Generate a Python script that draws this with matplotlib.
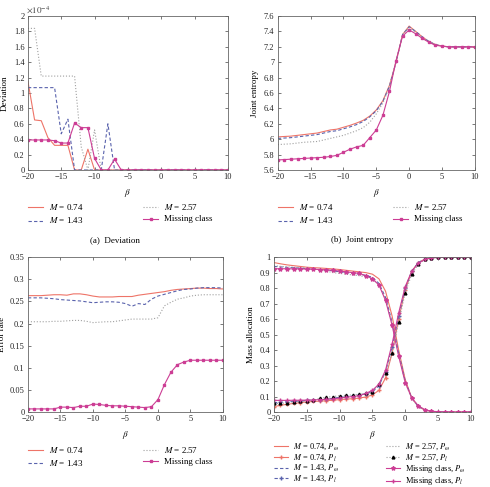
import numpy as np
import matplotlib
matplotlib.use('Agg')
from matplotlib import pyplot as plt

plt.rcParams['font.family'] = ['Liberation Serif', 'DejaVu Serif']
plt.rcParams['mathtext.fontset'] = 'stix'
plt.rcParams['font.size'] = 6.5

beta = list(range(-20, 11))

# (a) deviation, in units of 1e-4
dev_074 = [1.15, 0.65, 0.64, 0.42, 0.32, 0.32, 0.32, 0, 0, 0.27, 0] + [0] * 20
dev_143 = [1.07, 1.07, 1.07, 1.07, 1.07, 0.47, 0.66, 0, 0, 0, 0, 0, 0.6, 0] + [0] * 17
dev_257 = [1.84, 1.84, 1.22, 1.22, 1.22, 1.22, 1.22, 1.22, 0.3, 0, 0.52, 0] + [0] * 19
dev_miss = [0.39, 0.39, 0.39, 0.39, 0.38, 0.35, 0.35, 0.61, 0.55, 0.55, 0.15, 0, 0, 0.14, 0] + [0] * 16

# (b) joint entropy
ent_074 = [6.03, 6.035, 6.04, 6.05, 6.06, 6.07, 6.08, 6.1, 6.12, 6.13, 6.155, 6.18, 6.21, 6.245,
           6.3, 6.38, 6.5, 6.7, 7.0, 7.36, 7.47, 7.4, 7.33, 7.27, 7.23, 7.21, 7.2, 7.2, 7.2, 7.2, 7.2]
ent_143 = [6.01, 6.015, 6.02, 6.03, 6.04, 6.05, 6.06, 6.08, 6.1, 6.11, 6.135, 6.16, 6.19, 6.23,
           6.29, 6.37, 6.49, 6.69, 7.0, 7.36, 7.46, 7.4, 7.33, 7.27, 7.23, 7.21, 7.2, 7.2, 7.2, 7.2, 7.2]
ent_257 = [5.93, 5.935, 5.94, 5.95, 5.96, 5.965, 5.97, 5.99, 6.01, 6.03, 6.05, 6.08, 6.11, 6.15,
           6.22, 6.33, 6.47, 6.68, 7.0, 7.36, 7.45, 7.39, 7.32, 7.27, 7.23, 7.21, 7.2, 7.2, 7.2, 7.2, 7.2]
ent_miss = [5.73, 5.735, 5.74, 5.745, 5.75, 5.755, 5.76, 5.765, 5.775, 5.79, 5.83, 5.87, 5.9, 5.92,
            6.02, 6.12, 6.31, 6.62, 7.02, 7.34, 7.42, 7.37, 7.31, 7.26, 7.22, 7.21, 7.2, 7.2, 7.2, 7.2, 7.2]

# (c) error rate
err_074 = [0.263, 0.263, 0.263, 0.264, 0.265, 0.265, 0.264, 0.267, 0.267, 0.265, 0.262, 0.26, 0.26,
           0.26, 0.261, 0.261, 0.261, 0.264, 0.266, 0.268, 0.27, 0.272, 0.275, 0.277, 0.278, 0.279,
           0.28, 0.28, 0.279, 0.279, 0.278]
err_143 = [0.258, 0.258, 0.258, 0.257, 0.256, 0.254, 0.253, 0.252, 0.251, 0.249, 0.247, 0.248, 0.249,
           0.249, 0.248, 0.245, 0.239, 0.245, 0.243, 0.255, 0.262, 0.266, 0.27, 0.274, 0.277, 0.278,
           0.28, 0.281, 0.281, 0.281, 0.28]
err_257 = [0.204, 0.204, 0.204, 0.204, 0.205, 0.205, 0.206, 0.207, 0.207, 0.205, 0.202, 0.203, 0.204,
           0.204, 0.206, 0.208, 0.21, 0.21, 0.21, 0.21, 0.213, 0.24, 0.248, 0.255, 0.258, 0.262,
           0.264, 0.265, 0.265, 0.265, 0.265]
err_miss = [0.007, 0.007, 0.007, 0.007, 0.007, 0.011, 0.011, 0.01, 0.013, 0.013, 0.018, 0.017, 0.015,
            0.014, 0.014, 0.013, 0.012, 0.011, 0.01, 0.012, 0.028, 0.062, 0.09, 0.107, 0.113, 0.117,
            0.117, 0.117, 0.117, 0.117, 0.117]

# (d) mass allocation
pw_074 = [0.965, 0.957, 0.95, 0.945, 0.94, 0.935, 0.932, 0.93, 0.927, 0.924, 0.92, 0.915, 0.91, 0.905,
          0.9, 0.89, 0.86, 0.78, 0.62, 0.4, 0.21, 0.09, 0.035, 0.012, 0.004, 0.001, 0, 0, 0, 0, 0]
pl_074 = [0.035, 0.043, 0.05, 0.055, 0.06, 0.065, 0.068, 0.07, 0.073, 0.076, 0.08, 0.083, 0.086, 0.09,
          0.097, 0.11, 0.14, 0.22, 0.38, 0.6, 0.79, 0.91, 0.965, 0.988, 0.996, 0.999, 1, 1, 1, 1, 1]
pw_143 = [0.94, 0.937, 0.934, 0.932, 0.929, 0.925, 0.923, 0.92, 0.917, 0.912, 0.905, 0.9, 0.895, 0.89,
          0.882, 0.87, 0.83, 0.74, 0.58, 0.38, 0.2, 0.09, 0.035, 0.012, 0.004, 0.001, 0, 0, 0, 0, 0]
pl_143 = [0.06, 0.063, 0.066, 0.068, 0.071, 0.075, 0.077, 0.08, 0.083, 0.088, 0.095, 0.1, 0.105, 0.11,
          0.118, 0.13, 0.17, 0.26, 0.42, 0.62, 0.8, 0.91, 0.965, 0.988, 0.996, 0.999, 1, 1, 1, 1, 1]
pw_257 = [0.945, 0.94, 0.937, 0.935, 0.932, 0.93, 0.925, 0.918, 0.91, 0.9, 0.895, 0.89, 0.885, 0.88,
          0.872, 0.86, 0.82, 0.73, 0.57, 0.37, 0.19, 0.085, 0.035, 0.012, 0.004, 0.001, 0, 0, 0, 0, 0]
pl_257 = [0.055, 0.055, 0.06, 0.065, 0.068, 0.07, 0.075, 0.09, 0.095, 0.1, 0.105, 0.108, 0.11, 0.115,
          0.12, 0.13, 0.18, 0.25, 0.38, 0.58, 0.77, 0.89, 0.955, 0.985, 0.995, 0.999, 1, 1, 1, 1, 1]
pw_miss = [0.925, 0.925, 0.925, 0.924, 0.924, 0.923, 0.922, 0.92, 0.918, 0.915, 0.91, 0.905, 0.9, 0.895,
           0.88, 0.86, 0.82, 0.72, 0.56, 0.36, 0.19, 0.09, 0.04, 0.015, 0.005, 0.002, 0, 0, 0, 0, 0]
pl_miss = [0.075, 0.075, 0.075, 0.076, 0.076, 0.077, 0.078, 0.08, 0.082, 0.085, 0.09, 0.095, 0.1, 0.105,
           0.12, 0.14, 0.18, 0.27, 0.44, 0.64, 0.81, 0.91, 0.96, 0.985, 0.995, 0.998, 1, 1, 1, 1, 1]

c_red = '#ee7468'
c_blue = '#5a63ad'
c_gray = '#a0a0a0'
c_mag = '#cc3d94'

labels = ['$M$ = 0.74', '$M$ = 1.43', '$M$ = 2.57', 'Missing class']

fig = plt.figure(figsize=(4.9, 4.87), dpi=100)
ax_a = fig.add_axes([0.057, 0.651, 0.408, 0.316])
ax_b = fig.add_axes([0.567, 0.651, 0.402, 0.316])
ax_c = fig.add_axes([0.057, 0.154, 0.398, 0.318])
ax_d = fig.add_axes([0.559, 0.154, 0.402, 0.318])


def style(ax, ylabel):
    ax.set_xlim(-20, 10)
    ax.set_xticks(range(-20, 11, 5))
    ax.set_xticklabels(['\u221220', '\u221215', '\u221210', '\u22125', '0', '5', '10'])
    ax.tick_params(direction='in', top=True, right=True, length=2.5, width=0.5,
                   colors='#444444', labelcolor='#222222', pad=2.5, labelsize=6)
    for s in ax.spines.values():
        s.set_color('#666666')
        s.set_linewidth(0.6)
    ax.set_xlabel(r'$\beta$', labelpad=4)
    ax.set_ylabel(ylabel, fontsize=6.5)
    ax.yaxis.set_label_coords(-0.095, 0.5)


def legend(ax, spacing, lsp, fs=6.5, y=-0.21):
    ax.legend(loc='upper left', bbox_to_anchor=(0.0, y), ncol=2, frameon=False,
              columnspacing=spacing, handlelength=1.7, handletextpad=0.6, labelspacing=lsp,
              fontsize=fs, borderaxespad=0, borderpad=0, handleheight=0.5)


def four_lines(ax, y1, y2, y3, y4):
    ax.plot(beta, y1, '-', color=c_red, lw=0.8, label=labels[0])
    ax.plot(beta, y2, '--', color=c_blue, lw=0.8, dashes=(3, 2), label=labels[1])
    ax.plot(beta, y3, ':', color=c_gray, lw=0.8, label=labels[2])
    ax.plot(beta, y4, '-', color=c_mag, lw=0.8, marker='s', ms=1.8, label=labels[3])
    legend(ax, 6.6, 0.35)


four_lines(ax_a, dev_074, dev_143, dev_257, dev_miss)
style(ax_a, 'Deviation')
ax_a.set_ylim(0, 2)
ax_a.set_yticks(np.arange(0, 2.01, 0.2))
ax_a.set_yticklabels(['0', '0.2', '0.4', '0.6', '0.8', '1', '1.2', '1.4', '1.6', '1.8', '2'])
ax_a.text(-0.01, 1.02, r'$\times10^{-4}$', transform=ax_a.transAxes, fontsize=6.5, color='#444444')

four_lines(ax_b, ent_074, ent_143, ent_257, ent_miss)
style(ax_b, 'Joint entropy')
ax_b.set_ylim(5.6, 7.6)
ax_b.set_yticks(np.arange(5.6, 7.61, 0.2))
ax_b.set_yticklabels(['5.6', '5.8', '6', '6.2', '6.4', '6.6', '6.8', '7', '7.2', '7.4', '7.6'])

four_lines(ax_c, err_074, err_143, err_257, err_miss)
style(ax_c, 'Error rate')
ax_c.set_ylim(0, 0.35)
ax_c.set_yticks(np.arange(0, 0.351, 0.05))
ax_c.set_yticklabels(['0', '0.05', '0.1', '0.15', '0.2', '0.25', '0.3', '0.35'])
ax_c.yaxis.set_label_coords(-0.11, 0.5)

ax_d.plot(beta, pw_074, '-', color=c_red, lw=0.8, label=r'$M$ = 0.74, $P_\omega$')
ax_d.plot(beta, pl_074, '-', color=c_red, lw=0.8, marker='+', ms=3, label=r'$M$ = 0.74, $P_l$')
ax_d.plot(beta, pw_143, '--', color=c_blue, lw=0.8, dashes=(3, 2), label=r'$M$ = 1.43, $P_\omega$')
ax_d.plot(beta, pl_143, '--', color=c_blue, lw=0.8, dashes=(3, 2), marker='+', ms=3,
          label=r'$M$ = 1.43, $P_l$')
ax_d.plot(beta, pw_257, ':', color=c_gray, lw=0.8, label=r'$M$ = 2.57, $P_\omega$')
ax_d.plot(beta, pl_257, ':', color=c_gray, lw=0.8, marker='^', ms=2, mfc='black', mec='black',
          label=r'$M$ = 2.57, $P_l$')
ax_d.plot(beta, pw_miss, '-', color=c_mag, lw=0.8, marker='*', ms=3, label=r'Missing class, $P_\omega$')
ax_d.plot(beta, pl_miss, '-', color=c_mag, lw=0.8, marker='+', ms=3, label=r'Missing class, $P_l$')
legend(ax_d, 5.6, 0.05, fs=6, y=-0.19)
style(ax_d, 'Mass allocation')
ax_d.set_ylim(0, 1)
ax_d.set_yticks(np.arange(0, 1.01, 0.1))
ax_d.set_yticklabels(['0', '0.1', '0.2', '0.3', '0.4', '0.5', '0.6', '0.7', '0.8', '0.9', '1'])

fig.text(0.235, 0.503, '(a)  Deviation', ha='center', fontsize=6.5)
fig.text(0.74, 0.503, '(b)  Joint entropy', ha='center', fontsize=6.5)

fig.savefig('out.png', dpi=100)
